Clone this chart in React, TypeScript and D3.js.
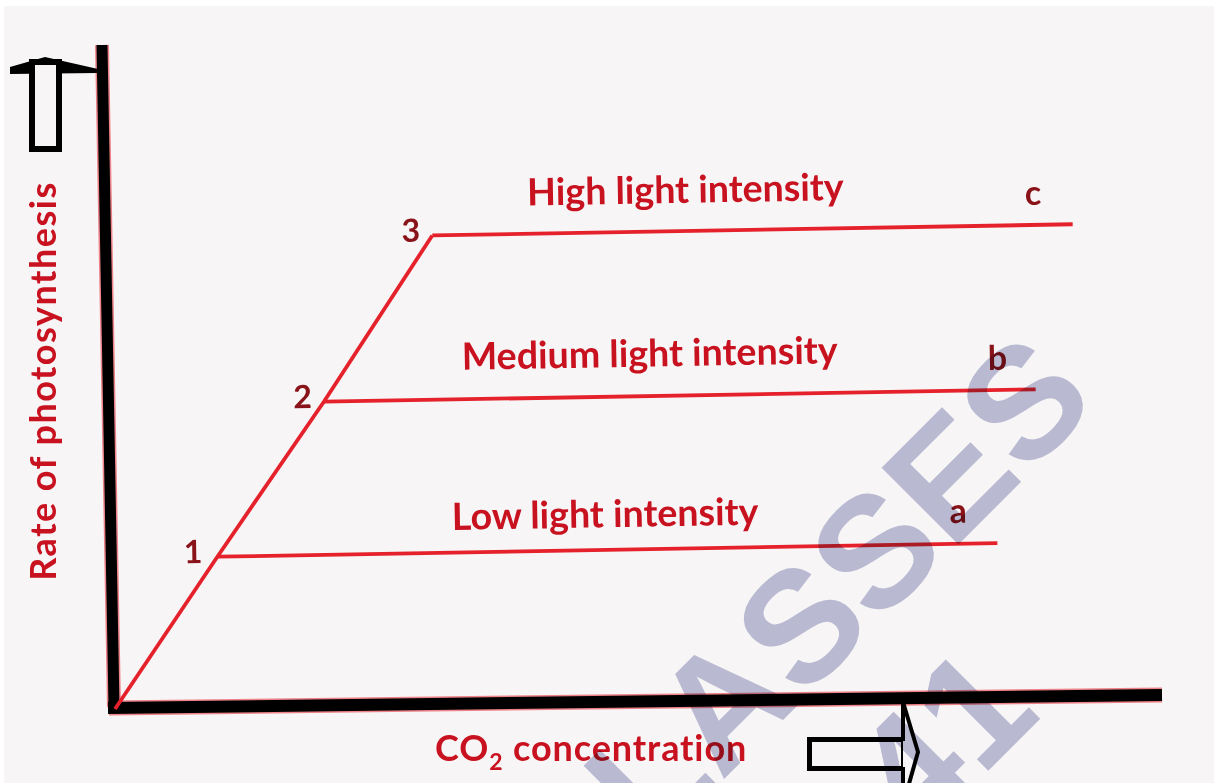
import React from "react";
import * as d3 from "d3";

// ---- data (chart units: CO2 concentration 0-100, rate 0-100) ----
const lightLevels = ["Low light intensity", "Medium light intensity", "High light intensity"];
const pointLabels = ["1", "2", "3"];
const endLabels = ["a", "b", "c"];
const saturationCO2 = [10, 20.4, 31];
const plateauRate = [22.8, 46, 70.9];
const endCO2 = [84.3, 88.2, 92];
const yTitle = "Rate of photosynthesis";
const watermarkLines = ["CLASSES", "41"];

// ---- layout ----
const W = 1214;
const H = 783;
const ORIGIN = { x: 115, y: 709 };
const TILT = -1;
const RED = "#e5222b";
const LABEL_RED = "#c8121f";
const DARK_RED = "#8a1219";
const BG = "#f7f5f6";
const FONT = "Lato, 'Noto Sans', sans-serif";

// label placement relative to lines (local frame)
const labelStartX = [32.4, 33.6, 40.1];
const labelRise = [22.7, 29.5, 28.3];
const endLabelX = [79.8, 83.7, 87.5];
const endLabelRise = [21, 20, 20];
const numberDx = [-15, -12, -12];

export default function App() {
  const x = d3.scaleLinear().domain([0, 100]).range([0, 1050]);
  const y = d3.scaleLinear().domain([0, 100]).range([0, -660]);

  const pts: [number, number][] = [[0, 0], ...saturationCO2.map((c, i) => [c, plateauRate[i]] as [number, number])];
  const line = d3
    .line<[number, number]>()
    .x((d) => x(d[0]))
    .y((d) => y(d[1]));

  return (
    <svg
      width={W}
      height={H}
      viewBox={`0 0 ${W} ${H}`}
      style={{ position: "absolute", left: 0, top: 0, display: "block" }}
    >
      <rect x={0} y={0} width={W} height={H} fill="#ffffff" />
      <rect x={4} y={6} width={W - 4} height={H - 6} fill={BG} />

      {/* axes */}
      <g strokeLinecap="butt">
        <line x1={102} y1={45} x2={114} y2={707} stroke={RED} strokeOpacity={0.55} strokeWidth={14} />
        <line x1={109} y1={708} x2={1162} y2={695} stroke={RED} strokeOpacity={0.55} strokeWidth={15} />
        <line x1={102} y1={45} x2={114} y2={707} stroke="#000" strokeWidth={11} />
        <line x1={108} y1={708} x2={1162} y2={695} stroke="#000" strokeWidth={12} />
      </g>

      {/* up arrow */}
      <g>
        <polygon points="10,67 45,57 98,69 98,73 10,74" fill="#000" />
        <rect x={32} y={62} width={27} height={87} fill={BG} stroke="#000" strokeWidth={6} />
      </g>

      {/* right arrow */}
      <g>
        <rect x={809.5} y={739.5} width={94} height={29} fill={BG} stroke="#000" strokeWidth={5} />
        <path d="M903,702 L918,752 L903,805 Z" fill={BG} stroke="#000" strokeWidth={4} strokeLinejoin="miter" />
        <line x1={905} y1={741} x2={905} y2={767} stroke={BG} strokeWidth={4} />
      </g>

      {/* data group (slightly tilted like the drawing) */}
      <g transform={`translate(${ORIGIN.x},${ORIGIN.y}) rotate(${TILT})`}>
        <path d={line(pts) || ""} fill="none" stroke={RED} strokeWidth={3.8} strokeLinejoin="miter" />
        {lightLevels.map((name, i) => (
          <line
            key={name}
            x1={x(saturationCO2[i])}
            y1={y(plateauRate[i])}
            x2={x(endCO2[i])}
            y2={y(plateauRate[i])}
            stroke={RED}
            strokeWidth={3.8}
          />
        ))}
        {lightLevels.map((name, i) => (
          <text
            key={"l" + name}
            x={x(labelStartX[i])}
            y={y(plateauRate[i]) - labelRise[i]}
            fontFamily={FONT}
            fontWeight={700}
            fontSize={37.6}
            fill={LABEL_RED}
          >
            {name}
          </text>
        ))}
        {endLabels.map((t, i) => (
          <text
            key={"e" + t}
            x={x(endLabelX[i])}
            y={y(plateauRate[i]) - endLabelRise[i]}
            fontFamily={FONT}
            fontWeight={700}
            fontSize={34}
            fill={DARK_RED}
          >
            {t}
          </text>
        ))}
        {pointLabels.map((t, i) => (
          <text
            key={"p" + t}
            x={x(saturationCO2[i]) + numberDx[i]}
            y={y(plateauRate[i]) + 6}
            textAnchor="end"
            fontFamily={FONT}
            fontWeight={700}
            fontSize={32}
            fill={DARK_RED}
          >
            {t}
          </text>
        ))}
      </g>

      {/* axis titles */}
      <text
        transform="translate(56,381) rotate(-90)"
        textAnchor="middle"
        fontFamily={FONT}
        fontWeight={700}
        fontSize={36}
        letterSpacing={1.5}
        fill={LABEL_RED}
      >
        {yTitle}
      </text>
      <text x={435} y={761} fontFamily={FONT} fontWeight={700} fontSize={36} letterSpacing={0.9} fill={LABEL_RED}>
        CO
        <tspan fontSize={23} dy={9}>2</tspan>
        <tspan dy={-9}> concentration</tspan>
      </text>

      {/* watermark */}
      <g
        transform="translate(1100,403) rotate(-45)"
        style={{ mixBlendMode: "multiply" }}
        fill="#bfc2da"
        fontFamily="'Liberation Sans', Arial, sans-serif"
        fontWeight={700}
        fontSize={158}
        textAnchor="end"
      >
        <text x={0} y={0}>{watermarkLines[0]}</text>
        <text x={-261} y={181}>{watermarkLines[1]}</text>
      </g>
    </svg>
  );
}
